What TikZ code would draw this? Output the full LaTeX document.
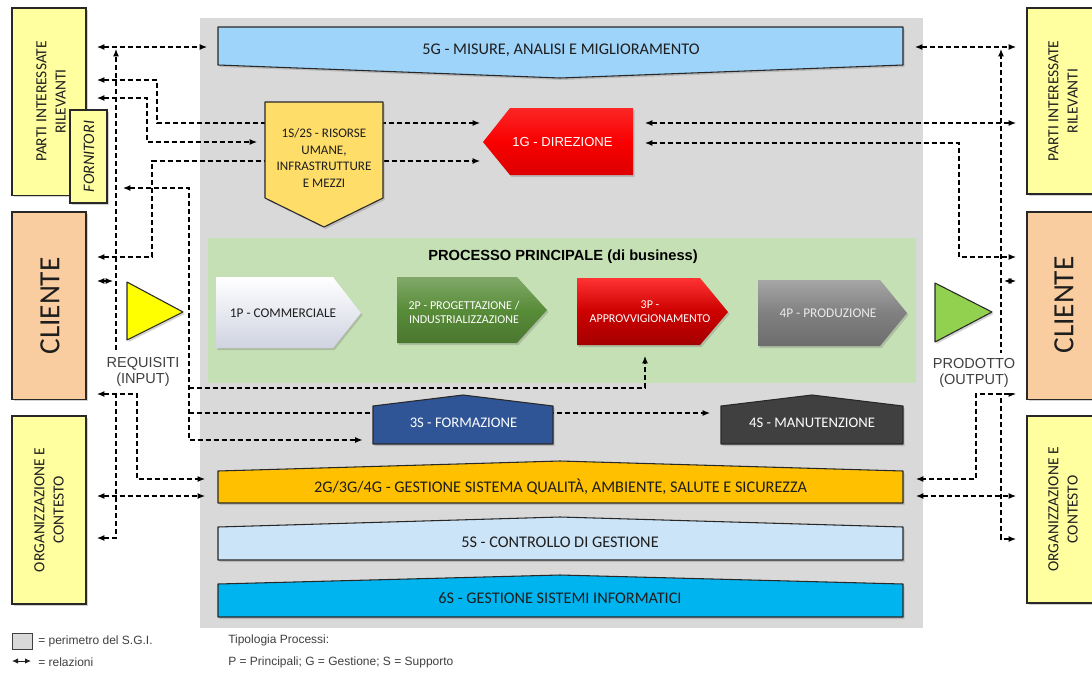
\documentclass[tikz,border=0pt]{standalone}
\usepackage{fontspec}
\setmainfont{Carlito}
\newfontfamily\arialf{Liberation Sans}
\usetikzlibrary{arrows.meta,shadows}
\pgfdeclarelayer{back}
\pgfdeclarelayer{mid}
\pgfsetlayers{back,mid,main}
\definecolor{bggray}{RGB}{217,217,217}
\definecolor{greenarea}{RGB}{197,224,180}
\definecolor{lightyel}{RGB}{255,255,160}
\definecolor{peach}{RGB}{250,205,160}
\definecolor{sky5g}{RGB}{158,211,250}
\definecolor{gold1s}{RGB}{255,221,105}
\definecolor{dirred}{RGB}{250,0,0}
\definecolor{lav1p}{RGB}{222,226,242}
\definecolor{green2p}{RGB}{88,140,56}
\definecolor{red3p}{RGB}{205,0,0}
\definecolor{gray4p}{RGB}{128,128,128}
\definecolor{blue3s}{RGB}{47,85,151}
\definecolor{dark4s}{RGB}{64,64,64}
\definecolor{gold2g}{RGB}{255,192,0}
\definecolor{pale5s}{RGB}{204,228,247}
\definecolor{cyan6s}{RGB}{0,180,240}
\definecolor{yelltri}{RGB}{255,255,0}
\definecolor{greentri}{RGB}{146,208,80}
\definecolor{edgegray}{RGB}{40,40,40}
\definecolor{darktxt}{RGB}{30,30,30}
\definecolor{legtxt}{RGB}{64,64,64}
\begin{document}
\begin{tikzpicture}[x=0.75pt,y=-0.75pt,
  rel/.style={line width=0.9pt, dash pattern=on 3.6pt off 2.4pt},
  >={Latex[length=5.5pt,width=4.5pt]},
  shad/.style={drop shadow={shadow xshift=1.2pt,shadow yshift=-1.5pt,opacity=0.35}},
  shp/.style={draw=edgegray, line width=0.8pt, line join=round, shad},
  nob/.style={draw=none, shad},
  anch/.style={inner sep=0pt, outer sep=8.25pt, align=center},
  sidebox/.style={draw=edgegray, line width=1pt, inner sep=0pt, outer xsep=8.25pt, outer ysep=0pt, minimum width=55.5pt, minimum height=140.5pt, shad},
  sidetxt/.style={rotate=90, align=center, font=\fontsize{11.6}{14.5}\selectfont, text=darktxt},
  bartxt/.style={font=\fontsize{12.2}{14}\selectfont, text=darktxt},
  midtxt/.style={font=\fontsize{11}{13}\selectfont, text=white},
  chtxt/.style={font=\fontsize{10}{12}\selectfont, align=center},
  chtxtb/.style={font=\fontsize{9}{10.5}\selectfont, align=center},
  arialtxt/.style={font=\arialf\fontsize{10.9}{12.5}\selectfont, text=legtxt, align=center, fill=white, inner xsep=1pt, inner ysep=4pt},
  legtext/.style={anchor=west, inner sep=0pt, font=\arialf\fontsize{9}{11}\selectfont, text=legtxt}
]
\useasboundingbox (0,0) rectangle (1092,675);
\begin{pgfonlayer}{back}
\fill[white] (0,0) rectangle (1092,675);
\fill[bggray] (200,18) rectangle (923,628);
\fill[greenarea] (208,238) rectangle (916,383);
\end{pgfonlayer}

% ---- left side boxes
\node[sidebox, fill=lightyel] (partiL) at (49,101.5) {};
\node[sidetxt] (tpartiL) at (51,101.5) {PARTI INTERESSATE\\RILEVANTI};
\node[draw=edgegray, line width=1pt, fill=lightyel, inner sep=0pt, outer xsep=12pt, outer ysep=0pt, minimum width=27.75pt, minimum height=69.75pt, shad] (forn) at (88.5,156.5) {};
\node[rotate=90, font=\itshape\fontsize{12}{14}\selectfont, text=darktxt] (tforn) at (89,156.5) {FORNITORI};
\node[sidebox, fill=peach] (clienteL) at (49,305.5) {};
\node[rotate=90, font=\fontsize{22}{26}\selectfont, text=darktxt] (tclienteL) at (50,306) {CLIENTE};
\node[sidebox, fill=lightyel, minimum height=141pt] (orgL) at (49,510) {};
\node[sidetxt] (torgL) at (49,510) {ORGANIZZAZIONE E\\CONTESTO};

% ---- right side boxes
\node[sidebox, fill=lightyel, minimum height=139.5pt] (partiR) at (1064,101) {};
\node[sidetxt] (tpartiR) at (1063,101) {PARTI INTERESSATE\\RILEVANTI};
\node[sidebox, fill=peach] (clienteR) at (1064,305.5) {};
\node[rotate=90, font=\fontsize{22}{26}\selectfont, text=darktxt] (tclienteR) at (1064,305) {CLIENTE};
\node[sidebox, fill=lightyel, minimum height=140.25pt] (orgR) at (1064,509.5) {};
\node[sidetxt] (torgR) at (1063,509.5) {ORGANIZZAZIONE E\\CONTESTO};

% ---- triangles
\path[shp, fill=yelltri] (127,282) -- (183,312) -- (127,340) -- cycle;
\node[arialtxt] (req) at (143,372) {REQUISITI\\(INPUT)};
\path[shp, fill=greentri] (935,283) -- (992,312) -- (935,342) -- cycle;
\node[arialtxt] (prod) at (974,373) {PRODOTTO\\(OUTPUT)};

% ---- 5G
\path[shp, fill=sky5g] (218,27) -- (903,27) -- (903,65) -- (560,78) -- (218,65) -- cycle;
\node[anch, minimum width=514.5pt, minimum height=34.5pt, bartxt] (m5g) at (561,50) {5G - MISURE, ANALISI E MIGLIORAMENTO};

% ---- 1S/2S
\path[shp, fill=gold1s] (265,102) -- (383,102) -- (383,198) -- (324,227) -- (265,198) -- cycle;
\node[anch, minimum width=84pt, minimum height=75pt, font=\fontsize{9.8}{12.5}\selectfont, text=darktxt] (rs) at (324,158) {1S/2S - RISORSE\\UMANE,\\INFRASTRUTTURE\\E MEZZI};

% ---- 1G
\path[nob, top color=dirred!85!white, bottom color=dirred!88!black, middle color=dirred] (483,142) -- (510,108) -- (633,108) -- (633,175) -- (510,175) -- cycle;
\node[anch, minimum width=107.25pt, minimum height=50.25pt, font=\arialf\fontsize{9.8}{12}\selectfont, text=white] (dir) at (562.5,142) {1G - DIREZIONE};

% ---- processo principale
\node[font=\arialf\bfseries\fontsize{11}{13}\selectfont, text=black] (proc) at (563,257) {PROCESSO PRINCIPALE (di business)};
\path[nob, top color=white, bottom color=lav1p!85!gray] (216,277) -- (333,277) -- (361,313) -- (333,348) -- (216,348) -- cycle;
\node[chtxt, text=darktxt] (p1) at (283,313) {1P - COMMERCIALE};
\path[nob, top color=green2p!75!white, bottom color=green2p!85!black, middle color=green2p] (397,277) -- (517,277) -- (547,310) -- (517,343) -- (397,343) -- cycle;
\node[chtxtb, text=white] (p2) at (464,312) {2P - PROGETTAZIONE /\\INDUSTRIALIZZAZIONE};
\path[nob, top color=red!80!white, bottom color=red3p!80!black, middle color=red3p] (577,278) -- (700,278) -- (728,312) -- (700,345) -- (577,345) -- cycle;
\node[anch, minimum width=113.25pt, minimum height=50.25pt, chtxtb, text=white] (p3) at (650,311.5) {3P -\\APPROVVIGIONAMENTO};
\path[nob, top color=gray4p!70!white, bottom color=gray4p!85!black, middle color=gray4p] (758,280) -- (880,280) -- (907,313) -- (880,346) -- (758,346) -- cycle;
\node[chtxt, text=white!92!black] (p4) at (828,313) {4P - PRODUZIONE};

% ---- 3S / 4S
\path[shp, fill=blue3s] (373,406) -- (463,395) -- (553,406) -- (553,444) -- (373,444) -- cycle;
\node[anch, minimum width=135pt, minimum height=30pt, midtxt] (f3s) at (463.5,423) {3S - FORMAZIONE};
\path[shp, fill=dark4s] (721,406) -- (812,395) -- (903,406) -- (903,444) -- (721,444) -- cycle;
\node[anch, minimum width=136.5pt, minimum height=30pt, midtxt] (f4s) at (812,423) {4S - MANUTENZIONE};

% ---- bottom bars
\path[shp, fill=gold2g] (218,471) -- (560,461) -- (903,471) -- (903,503) -- (218,503) -- cycle;
\node[anch, minimum width=516.75pt, minimum height=22.5pt, bartxt] (g2) at (560.5,487) {2G/3G/4G - GESTIONE SISTEMA QUALITÀ, AMBIENTE, SALUTE E SICUREZZA};
\path[shp, fill=pale5s] (218,527) -- (560,517) -- (903,527) -- (903,560) -- (218,560) -- cycle;
\node[bartxt] (c5s) at (560,542) {5S - CONTROLLO DI GESTIONE};
\path[shp, fill=cyan6s] (218,584) -- (560,575) -- (903,584) -- (903,617) -- (218,617) -- cycle;
\node[bartxt] (s6s) at (560,598) {6S - GESTIONE SISTEMI INFORMATICI};

% ---- legend
\node[draw=legtxt, fill=bggray, line width=0.6pt, minimum width=15pt, minimum height=12pt, inner sep=0pt] (legbox) at (22,641) {};
\node[legtext] (legt1) at (38,641) {= perimetro del S.G.I.};
\coordinate (la) at (12,661);
\coordinate (lb) at (31,661);
\draw[<->, >={Latex[length=4.5pt,width=4pt]}, line width=0.7pt, darktxt] (la) -- (lb);
\node[legtext] (legt2) at (38,662) {= relazioni};
\node[legtext] (legt3) at (228,640) {Tipologia Processi:};
\node[legtext] (legt4) at (228,662) {P = Principali; G = Gestione; S = Supporto};

% ---- connectors
\begin{pgfonlayer}{mid}
\draw[rel,<->] (partiL.east |- 0,47) -- (m5g.west |- 0,47);
\coordinate (vLtop) at (116,49);
\draw[rel,<->] (orgL.east |- 0,538) -| (vLtop);
\draw[rel,<->] (partiL.east |- 0,80) -| (157,123) -- (dir.west |- 0,123);
\draw[rel,<->] (partiL.east |- 0,98) -| (147,142) -- (rs.west |- 0,142);
\draw[rel,<->] (clienteL.east |- 0,257) -| (152,161) -- (dir.west |- 0,161);
\coordinate (jL) at (113,281);
\draw[rel,<->] (clienteL.east |- 0,281) -- (jL);
\draw[rel,<->] (forn.east |- 0,188) -| (189,440) -- (f3s.west |- 0,440);
\coordinate (vL2) at (189,388);
\draw[rel,->] (vL2) -| ([xshift=-3.75pt]p3.south);
\coordinate (vL3) at (189,413);
\draw[rel,->] (vL3) -- (f4s.west |- vL3);
\draw[rel,<->] (clienteL.east |- 0,394) -| (137,479) -- (g2.west |- 0,479);
\draw[rel,<->] (orgL.east |- 0,496) -- (g2.west |- 0,496);
\draw[rel,<->] (m5g.east |- 0,47) -- (partiR.west |- 0,47);
\coordinate (vRtop) at (1001,49);
\draw[rel,<->] (orgR.west |- 0,539) -| (vRtop);
\draw[rel,<->] (dir.east |- 0,123) -- (partiR.west |- 0,123);
\draw[rel,<->] (dir.east |- 0,143) -| (959,257) -- (clienteR.west |- 0,257);
\coordinate (jR) at (1004,281);
\draw[rel,<->] (jR) -- (clienteR.west |- 0,281);
\draw[rel,<->] (clienteR.west |- 0,394) -| (976,479) -- (g2.east |- 0,479);
\draw[rel,<->] (g2.east |- 0,496) -- (orgR.west |- 0,496);
\end{pgfonlayer}
\end{tikzpicture}
\end{document}
